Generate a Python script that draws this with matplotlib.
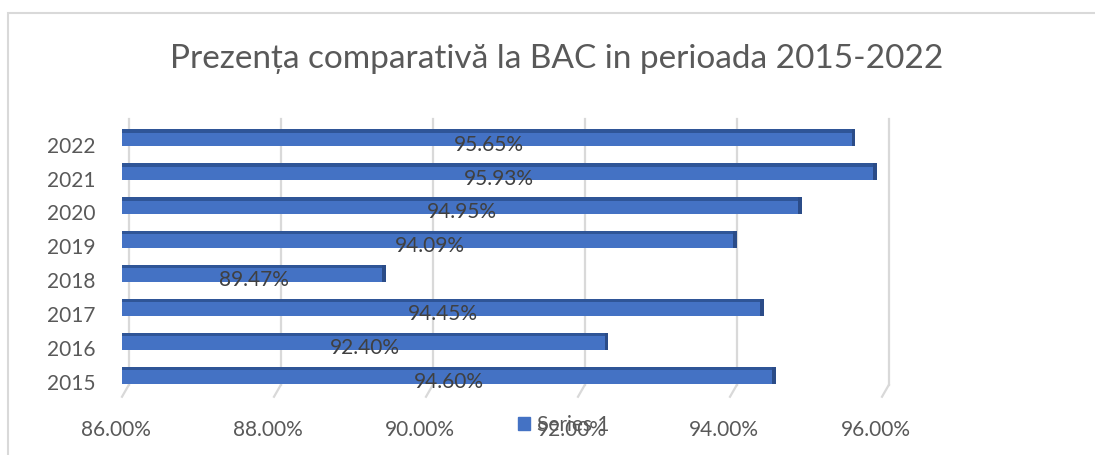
import numpy as np
import matplotlib
matplotlib.use('Agg')
import matplotlib.pyplot as plt
import matplotlib.transforms as mtransforms
from matplotlib.patches import Patch, Rectangle

plt.rcParams['font.family'] = ['Lato', 'DejaVu Sans']

years = ['2015', '2016', '2017', '2018', '2019', '2020', '2021', '2022']
presence = [94.60, 92.40, 94.45, 89.47, 94.09, 94.95, 95.93, 95.65]
xticks = [86, 88, 90, 92, 94, 96]
title = 'Prezența comparativă la BAC in perioada 2015-2022'
series_name = 'Series 1'

W, H = 1095, 455
fig = plt.figure(figsize=(W / 100, H / 100), dpi=100)
ax = fig.add_axes([122 / W, 1 - 392 / H, 760 / W, 271 / H])

x0 = 86
ypos = np.arange(len(years))
lift = 0.2       # bars sit a bit above the category line (3D look)
bh = 0.5
face = '#4472C4'
dark = '#2F5597'
cap = '#2B4C88'

# back-wall gridlines + floor slant
dx = 0.09
for t in xticks:
    ax.plot([t + dx, t + dx], [-0.09, 7.75], color='#D9D9D9', lw=1.6,
            zorder=0, clip_on=False)
    ax.plot([t + dx, t], [-0.09, -0.44], color='#D9D9D9', lw=1.6,
            zorder=0, clip_on=False)

vals = np.array(presence)
widths = vals - x0
# front face
ax.barh(ypos + lift, widths, height=bh, left=x0, color=face, zorder=2)
# top face (darker strip)
ax.barh(ypos + lift + bh / 2 - 0.05, widths, height=0.1, left=x0,
        color=dark, zorder=3)
# end cap
ax.barh(ypos + lift, 0.05, height=bh, left=vals - 0.05, color=cap, zorder=3)

for y, v in zip(ypos, presence):
    ax.text((x0 + v) / 2, y, f'{v:.2f}%', ha='center', va='center',
            fontsize=15, color='#404040', zorder=5)

ax.set_xlim(86, 96)
ax.set_ylim(-0.3, 7.7)
ax.set_xticks(xticks)
ax.set_xticklabels([f'{t:.2f}%' for t in xticks])
ax.set_yticks(ypos)
ax.set_yticklabels(years)
ax.tick_params(axis='x', length=0, pad=20, labelsize=15, labelcolor='#595959')
ax.tick_params(axis='y', length=0, pad=19, labelsize=15, labelcolor='#595959')
off = mtransforms.ScaledTranslation(-6 / 100, 0, fig.dpi_scale_trans)
for lab in ax.get_xticklabels():
    lab.set_transform(lab.get_transform() + off)
for s in ax.spines.values():
    s.set_visible(False)

fig.text(557 / W, 1 - 68 / H, title, ha='center', va='baseline',
         fontsize=24, color='#595959')

fig.legend(handles=[Patch(color=face, label=series_name)],
           loc='center left', bbox_to_anchor=(518 / W, 1 - 425 / H),
           frameon=False, fontsize=15, labelcolor='#595959',
           handlelength=0.58, handleheight=0.58, handletextpad=0.34,
           borderpad=0, borderaxespad=0)

fig.patches.append(Rectangle((8 / W, -0.2), 1.2, 1.2 - 13 / H,
                             transform=fig.transFigure, fill=False,
                             edgecolor='#D9D9D9', lw=1.5))

fig.savefig('out.png', dpi=100)
